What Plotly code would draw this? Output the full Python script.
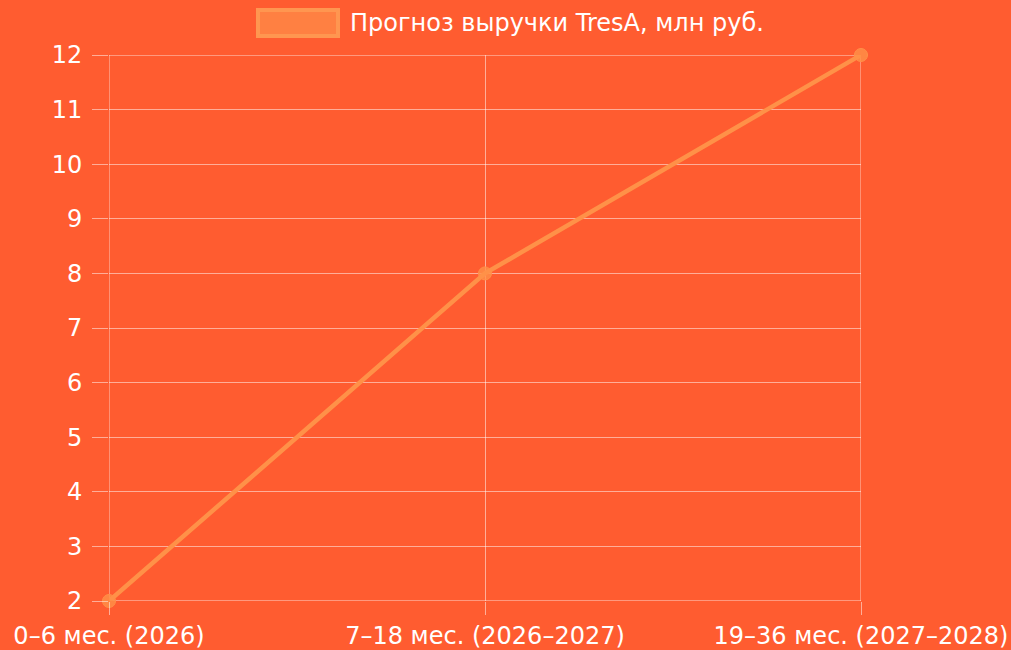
import plotly.graph_objects as go

categories = ["0–6 мес. (2026)", "7–18 мес. (2026–2027)", "19–36 мес. (2027–2028)"]
revenue = [2, 8, 12]
series_name = "Прогноз выручки TresA, млн руб."
y_min, y_max = 2, 12

BG = "#FF5C30"
LINE = "#FF9148"
GRID = "rgba(255,255,255,0.5)"
FONT = "DejaVu Sans"
FS = 24

fig = go.Figure()
fig.add_trace(go.Scatter(
    x=categories, y=revenue, mode="lines+markers", name=series_name,
    line=dict(color=LINE, width=4.5),
    marker=dict(size=13, color="rgba(255,145,72,0.8)", line=dict(color=LINE, width=1)),
    cliponaxis=False, showlegend=False,
))

# boundary grid lines (plotly drops grid lines lying on the plot edges)
for xv in (0, len(categories) - 1):
    fig.add_shape(type="line", xref="x", yref="paper", x0=xv, x1=xv, y0=0, y1=1,
                  line=dict(color=GRID, width=1.3), layer="below")
for yv in (y_min, y_max):
    fig.add_shape(type="line", xref="paper", yref="y", x0=0, x1=1, y0=yv, y1=yv,
                  line=dict(color=GRID, width=1.3), layer="below")

# legend (Chart.js style box)
fig.add_shape(type="rect", xref="paper", yref="paper",
              x0=(258 - 109) / 752, x1=(338 - 109) / 752,
              y0=(601 - 36) / 546, y1=(601 - 10) / 546,
              fillcolor="#FF8042", line=dict(color="#FF9650", width=4))
fig.add_annotation(xref="paper", yref="paper", x=(348 - 109) / 752, y=(601 - 23) / 546,
                   text=series_name, showarrow=False, xanchor="left", yanchor="middle",
                   font=dict(family=FONT, size=FS, color="white"))

fig.update_layout(
    width=1011, height=650,
    paper_bgcolor=BG, plot_bgcolor=BG,
    margin=dict(l=109, r=150, t=55, b=49),
    font=dict(family=FONT, size=FS, color="white"),
    showlegend=False,
)
fig.update_xaxes(
    type="category", range=[0, len(categories) - 1], showgrid=True, gridcolor=GRID, gridwidth=1.3,
    ticks="outside", ticklen=13, tickcolor=GRID, tickwidth=1.3, automargin=False,
    showline=False, zeroline=False, tickfont=dict(size=FS, color="white"),
)
fig.update_yaxes(
    range=[y_min, y_max], dtick=1, showgrid=True, gridcolor=GRID, gridwidth=1.3,
    ticks="outside", ticklen=16, tickcolor=GRID, tickwidth=1.3, automargin=False,
    ticklabelstandoff=5,
    showline=False, zeroline=False, tickfont=dict(size=FS, color="white"),
)

fig.write_html("out.html", config={"displayModeBar": False},
               post_script="document.body.style.margin='0';document.body.style.background='%s';" % BG)
